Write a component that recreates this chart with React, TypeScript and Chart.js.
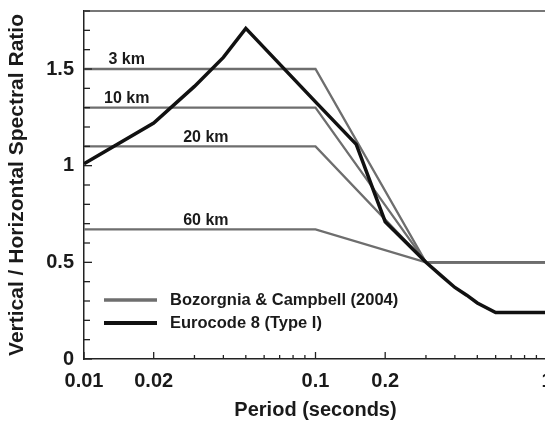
import React, { useEffect, useRef } from "react";
import { Chart, registerables } from "chart.js";

Chart.register(...registerables);

// Bozorgnia & Campbell (2004) V/H ratios
const bcPeriods = [0.01, 0.1, 0.3, 1];
const bc3km = [1.5, 1.5, 0.5, 0.5];
const bc10km = [1.3, 1.3, 0.5, 0.5];
const bc20km = [1.1, 1.1, 0.5, 0.5];
const bc60km = [0.67, 0.67, 0.5, 0.5];

// Eurocode 8 (Type I)
const ecPeriods = [0.01, 0.02, 0.03, 0.04, 0.05, 0.1, 0.15, 0.2, 0.3, 0.35, 0.4, 0.45, 0.5, 0.6, 1];
const ecValues = [1.01, 1.22, 1.41, 1.56, 1.71, 1.33, 1.11, 0.71, 0.5, 0.43, 0.37, 0.33, 0.29, 0.24, 0.24];

// Distance annotations
const distanceLabels = ["3 km", "10 km", "20 km", "60 km"];
const distanceLabelPeriods = [0.0153, 0.0153, 0.0336, 0.0336];
const distanceLabelValues = [1.5, 1.3, 1.1, 0.67];

// Axis ticks
const xTickValues = [
  0.01, 0.02, 0.03, 0.04, 0.05, 0.06, 0.07, 0.08, 0.09,
  0.1, 0.2, 0.3, 0.4, 0.5, 0.6, 0.7, 0.8, 0.9, 1,
];
const xMajorTicks = [0.01, 0.02, 0.1, 0.2, 1];
const xMajorLabels = ["0.01", "0.02", "0.1", "0.2", "1"];
const yMajorTicks = [0, 0.5, 1, 1.5];
const yMajorLabels = ["0", "0.5", "1", "1.5"];

const legendLabels = ["Bozorgnia & Campbell (2004)", "Eurocode 8 (Type I)"];
const xTitle = "Period (seconds)";
const yTitle = "Vertical / Horizontal Spectral Ratio";

const FONT = "'Liberation Sans', Arial, Helvetica, sans-serif";
const GRAY = "#6e6e6e";
const BLACK = "#111111";

const near = (a: number, b: number) => Math.abs(a - b) < 1e-6;

const decorPlugin = {
  id: "decor",
  afterDatasetsDraw(chart: any) {
    const { ctx, chartArea, scales } = chart;
    const xs = scales.x;
    const ys = scales.y;
    ctx.save();
    // top border
    ctx.strokeStyle = "#777777";
    ctx.lineWidth = 2;
    ctx.beginPath();
    ctx.moveTo(chartArea.left, chartArea.top);
    ctx.lineTo(chartArea.right + 20, chartArea.top);
    ctx.stroke();

    // inward ticks on x
    ctx.strokeStyle = "#222222";
    ctx.lineWidth = 1.3;
    xTickValues.forEach((v) => {
      const major = xMajorTicks.some((m) => near(m, v));
      const px = xs.getPixelForValue(v);
      const len = major ? 7 : 4;
      ctx.beginPath();
      ctx.moveTo(px, chartArea.bottom);
      ctx.lineTo(px, chartArea.bottom - len);
      ctx.stroke();
    });
    // inward ticks on y
    ys.ticks.forEach((t: any) => {
      const major = yMajorTicks.some((m) => near(m, t.value));
      const py = ys.getPixelForValue(t.value);
      const len = major ? 8 : 6;
      ctx.beginPath();
      ctx.moveTo(chartArea.left, py);
      ctx.lineTo(chartArea.left + len, py);
      ctx.stroke();
    });

    // distance labels
    ctx.fillStyle = "#1a1a1a";
    ctx.font = `bold 16px ${FONT}`;
    ctx.textAlign = "center";
    ctx.textBaseline = "middle";
    distanceLabels.forEach((lab, i) => {
      const px = xs.getPixelForValue(distanceLabelPeriods[i]);
      const py = ys.getPixelForValue(distanceLabelValues[i]) - 9;
      ctx.fillText(lab, px, py);
    });

    // legend
    const lx0 = chartArea.left + 20;
    const lx1 = chartArea.left + 73;
    const rows = [chartArea.bottom - 59, chartArea.bottom - 36];
    const colors = [GRAY, BLACK];
    const widths = [3.5, 4];
    ctx.textAlign = "left";
    ctx.font = `bold 16.5px ${FONT}`;
    legendLabels.forEach((lab, i) => {
      ctx.strokeStyle = colors[i];
      ctx.lineWidth = widths[i];
      ctx.beginPath();
      ctx.moveTo(lx0, rows[i]);
      ctx.lineTo(lx1, rows[i]);
      ctx.stroke();
      ctx.fillStyle = "#1a1a1a";
      ctx.fillText(lab, chartArea.left + 86, rows[i]);
    });
    ctx.restore();
  },
};

function App() {
  const canvasRef = useRef<HTMLCanvasElement | null>(null);

  useEffect(() => {
    document.body.style.margin = "0";
    document.body.style.overflow = "hidden";
    document.documentElement.style.overflow = "hidden";
    const canvas = canvasRef.current;
    if (!canvas) return;

    const grayDs = (label: string, vals: number[]) => ({
      label,
      data: bcPeriods.map((p, i) => ({ x: p, y: vals[i] })),
      borderColor: GRAY,
      borderWidth: 2.3,
      pointRadius: 0,
      tension: 0,
      fill: false,
      order: 1,
      borderJoinStyle: "miter" as const,
    });

    const chart = new Chart(canvas, {
      type: "line",
      data: {
        datasets: [
          {
            label: legendLabels[1],
            data: ecPeriods.map((p, i) => ({ x: p, y: ecValues[i] })),
            borderColor: BLACK,
            borderWidth: 3.5,
            pointRadius: 0,
            tension: 0,
            fill: false,
            order: 0,
            borderJoinStyle: "miter" as const,
          },
          grayDs(distanceLabels[0], bc3km),
          grayDs(distanceLabels[1], bc10km),
          grayDs(distanceLabels[2], bc20km),
          grayDs(distanceLabels[3], bc60km),
        ],
      },
      options: {
        animation: false,
        responsive: false,
        devicePixelRatio: 1,
        layout: { padding: { top: 11, right: 9, left: 0, bottom: 0 } },
        plugins: {
          legend: { display: false },
          tooltip: { enabled: false },
        },
        scales: {
          x: {
            type: "logarithmic",
            min: 0.01,
            max: 1,
            afterBuildTicks: (scale: any) => {
              scale.ticks = xTickValues.map((v) => ({ value: v }));
            },
            afterFit: (scale: any) => {
              scale.height = 66;
              scale.paddingLeft = 0;
              scale.paddingRight = 0;
              scale.paddingTop = 0;
              scale.paddingBottom = 0;
            },
            grid: { display: false, drawTicks: false },
            border: { display: true, color: "#222222", width: 1.5 },
            ticks: {
              autoSkip: false,
              maxRotation: 0,
              padding: 10,
              color: "#1a1a1a",
              font: { family: FONT, size: 20, weight: "bold" },
              callback: (value: any) => {
                const idx = xMajorTicks.findIndex((m) => near(m, Number(value)));
                return idx >= 0 ? xMajorLabels[idx] : "";
              },
            },
            title: {
              display: true,
              text: xTitle,
              color: "#1a1a1a",
              font: { family: FONT, size: 20, weight: "bold" },
              padding: { top: 0, bottom: 3 },
            },
          },
          y: {
            type: "linear",
            min: 0,
            max: 1.8,
            afterFit: (scale: any) => {
              scale.width = 84;
              scale.paddingLeft = 0;
              scale.paddingRight = 0;
              scale.paddingTop = 0;
              scale.paddingBottom = 0;
            },
            grid: { display: false, drawTicks: false },
            border: { display: true, color: "#222222", width: 1.5 },
            ticks: {
              stepSize: 0.1,
              autoSkip: false,
              padding: 10,
              color: "#1a1a1a",
              font: { family: FONT, size: 20, weight: "bold" },
              callback: (value: any) => {
                const idx = yMajorTicks.findIndex((m) => near(m, Number(value)));
                return idx >= 0 ? yMajorLabels[idx] : "";
              },
            },
            title: {
              display: true,
              text: yTitle,
              color: "#1a1a1a",
              font: { family: FONT, size: 21, weight: "bold" },
              padding: { top: 5, bottom: 0 },
            },
          },
        },
      },
      plugins: [decorPlugin],
    } as any);

    return () => {
      chart.destroy();
    };
  }, []);

  return (
    <div style={{ width: 545, height: 425, overflow: "hidden", position: "relative", background: "#fff" }}>
      <canvas ref={canvasRef} width={556} height={425} style={{ display: "block" }} />
    </div>
  );
}

export default App;
